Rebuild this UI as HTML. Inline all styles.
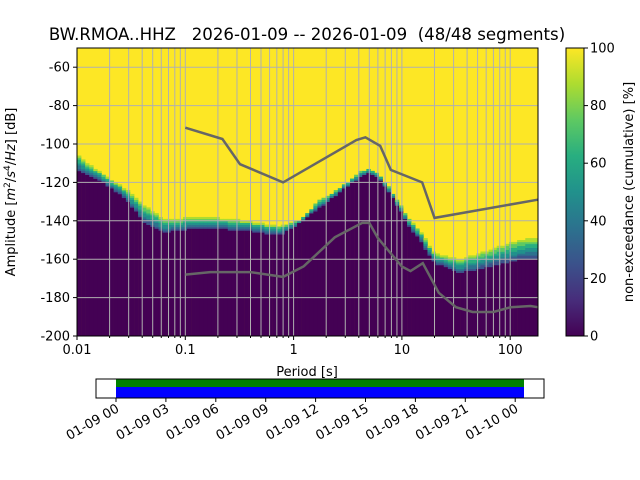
<!DOCTYPE html>
<html><head><meta charset="utf-8"><style>
html,body{margin:0;padding:0;background:#fff}
svg{display:block;font-family:"DejaVu Sans","Liberation Sans",sans-serif}
</style></head><body>
<svg id="c" width="640" height="480" xmlns="http://www.w3.org/2000/svg">
<text x="307" y="40" text-anchor="middle" font-size="16.6" style="white-space:pre" xml:space="preserve">BW.RMOA..HHZ   2026-01-09 -- 2026-01-09  (48/48 segments)</text>
</svg>
<script>
// PSD edge data: period [s], top of 0%-region (dB), top of transition (dB)
const periods   = [0.01, 0.0163, 0.0277, 0.0424, 0.065, 0.1365, 0.32, 0.75, 1.14, 1.76, 2.69, 4.1, 5.1, 6.2, 7.7, 9.5, 11.7, 14.6, 20.1, 34.4, 64.5, 123, 180];
const lowEdge   = [-113.5, -118.7, -128, -141, -146, -143.7, -144.8, -147.4, -141, -133, -125, -117, -115, -118, -125.5, -134, -143, -150, -162, -167, -164, -160.4, -160];
const highEdge  = [-105.7, -114.6, -123, -132, -139.6, -137.5, -139.6, -142.7, -139.5, -129, -123, -114.5, -113, -116, -123, -131, -139, -145, -156.8, -160, -155, -150, -148.4];
// noise models
const nhnmP = [0.1, 0.22, 0.32, 0.8, 3.8, 4.6, 6.3, 7.9, 15.4, 20, 180];
const nhnmV = [-91.5, -97.4, -110.5, -120, -97.9, -96.5, -101, -113.5, -120, -138.5, -129];
const nlnmP = [0.1, 0.17, 0.4, 0.8, 1.24, 2.4, 4.3, 5, 6, 10, 12, 15.6, 21.9, 31.6, 45, 70, 101, 154, 180];
const nlnmV = [-168, -166.7, -166.7, -169.2, -163.7, -148.6, -141.1, -141.1, -149, -163.8, -166.2, -162.1, -177.5, -185, -187.5, -187.5, -185, -184.4, -185];
const yTicks = [-60, -80, -100, -120, -140, -160, -180, -200];
const xTicks = [0.01, 0.1, 1, 10, 100];
const xTickLabels = ["0.01", "0.1", "1", "10", "100"];
const cbTicks = [0, 20, 40, 60, 80, 100];
const timeTicks = ["01-09 00","01-09 03","01-09 06","01-09 09","01-09 12","01-09 15","01-09 18","01-09 21","01-10 00"];

const L=77,R=538,T=48,B=336;
const X=p=>L+(Math.log10(p)+2)*108.3;
const Y=v=>T+(-50-v)*(B-T)/150;
const svg=document.getElementById('c');
const NS="http://www.w3.org/2000/svg";
function mk(tag,a,parent){const e=document.createElementNS(NS,tag);for(const k in a)e.setAttribute(k,a[k]);(parent||svg).appendChild(e);return e;}
function interp(xs,ys,x){ if(x<=xs[0])return ys[0]; for(let i=1;i<xs.length;i++){ if(x<=xs[i]){const t=(Math.log10(x)-Math.log10(xs[i-1]))/(Math.log10(xs[i])-Math.log10(xs[i-1]));return ys[i-1]+t*(ys[i]-ys[i-1]);}} return ys[ys.length-1];}
const vir=['#440154','#472d7b','#3b528b','#2c728e','#21918c','#28ae80','#5ec962','#addc30','#fde725'];
function vcol(f){return vir[Math.max(0,Math.min(8,Math.round(f*8)))];}

const hm=mk('g',{});


mk('rect',{x:L,y:T,width:R-L,height:B-T,fill:'#fde725'},hm);
const step=Math.log10(2)/8;
for(let lp=-2;lp<Math.log10(180)+step;lp+=step){
  const p=Math.pow(10,lp+step/2);
  const x0=X(Math.pow(10,lp)), x1=Math.min(R,X(Math.pow(10,lp+step)));
  if(x0>=R)break;
  const lo=Math.round(interp(periods,lowEdge,p)), hi=Math.round(interp(periods,highEdge,p));
  const col=mk('rect',{x:x0,y:Y(lo),width:x1-x0+0.3,height:B-Y(lo),fill:'#440154'},hm);
  
  
  const w=Math.max(1,lo<hi?hi-lo:1);
  for(let d=lo;d<hi;d++){
    const f=(d-lo+1)/(w+1);
    mk('rect',{x:x0,y:Y(d+1),width:x1-x0+0.3,height:Y(d)-Y(d+1)+0.3,fill:vcol(0.15+f*0.8)},hm);
  }
}
const gr=mk('g',{stroke:'#b0b0b0','stroke-width':1});


for(let e=-2;e<=2;e++)for(let k=1;k<=9;k++){const p=k*Math.pow(10,e);if(p<0.02&&k!==1)continue;if(p===0.01)continue;if(p>180)continue;const x=X(p);mk('line',{x1:x,x2:x,y1:T,y2:B},gr);}
yTicks.forEach(v=>{if(v>-200)mk('line',{x1:L,x2:R,y1:Y(v),y2:Y(v)},gr);});
function curve(ps,vs,name){const pts=ps.map((p,i)=>X(p).toFixed(1)+','+Y(vs[i]).toFixed(1)).join(' ');const e=mk('polyline',{points:pts,fill:'none',stroke:'#666','stroke-width':2.5});}
curve(nhnmP,nhnmV,'nhnm-line');curve(nlnmP,nlnmV,'nlnm-line');
mk('rect',{x:L,y:T,width:R-L,height:B-T,fill:'none',stroke:'#000','stroke-width':1});
yTicks.forEach(v=>{const y=Y(v);mk('line',{x1:L-4,x2:L,y1:y,y2:y,stroke:'#000'});const t=mk('text',{x:L-7,y:y+4.5,'text-anchor':'end','font-size':13});t.textContent=v;});
xTicks.forEach((p,i)=>{const x=X(p);mk('line',{x1:x,x2:x,y1:B,y2:B+4,stroke:'#000'});const t=mk('text',{x:x,y:B+18,'text-anchor':'middle','font-size':13});t.textContent=xTickLabels[i];});
for(let e=-2;e<=2;e++)for(let k=2;k<=9;k++){const p=k*Math.pow(10,e);if(p>180)continue;const x=X(p);mk('line',{x1:x,x2:x,y1:B,y2:B+2,stroke:'#000'});}
let t=mk('text',{x:307,y:376,'text-anchor':'middle','font-size':13});t.textContent='Period [s]';


t=mk('text',{x:0,y:0,'text-anchor':'middle','font-size':13,transform:'translate(15,192) rotate(-90)'});
t.innerHTML='Amplitude [<tspan font-style="italic">m</tspan><tspan dy="-5" font-size="9">2</tspan><tspan dy="5">/</tspan><tspan font-style="italic">s</tspan><tspan dy="-5" font-size="9">4</tspan><tspan dy="5">/</tspan><tspan font-style="italic">Hz</tspan>] [dB]';


const defs=mk('defs',{});const lg=mk('linearGradient',{id:'vg',x1:0,y1:1,x2:0,y2:0},defs);
vir.forEach((c,i)=>mk('stop',{offset:i/8,'stop-color':c},lg));
const cb=mk('rect',{x:566,y:T,width:18,height:B-T,fill:'url(#vg)',stroke:'#000'});


cbTicks.forEach(v=>{const y=B-v/100*(B-T);mk('line',{x1:584,x2:588,y1:y,y2:y,stroke:'#000'});const tt=mk('text',{x:590,y:y+4.5,'font-size':13});tt.textContent=v;});
t=mk('text',{x:0,y:0,'text-anchor':'middle','font-size':13,transform:'translate(633,192) rotate(-90)'});t.textContent='non-exceedance (cumulative) [%]';


const tl=mk('g',{});


mk('rect',{x:116,y:379,width:408,height:8,fill:'#008000'},tl);
mk('rect',{x:116,y:387,width:408,height:11,fill:'#0000ff'},tl);
mk('rect',{x:96,y:379,width:448,height:19,fill:'none',stroke:'#000'},tl);
timeTicks.forEach((s,i)=>{const x=116+i*49.9;mk('line',{x1:x,x2:x,y1:398,y2:402,stroke:'#000'},tl);const tt=mk('text',{x:0,y:0,'text-anchor':'end','font-size':13,transform:`translate(${x+4},${411}) rotate(-30)`},tl);tt.textContent=s;});
</script>
</body></html>
